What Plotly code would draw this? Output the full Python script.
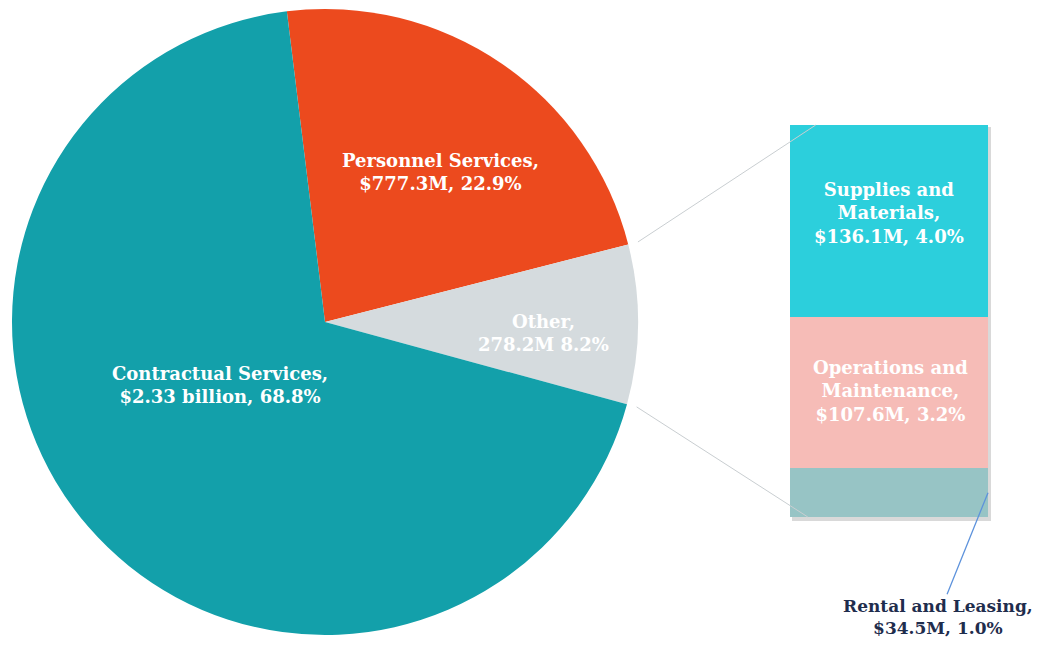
# Budget breakdown: pie of main categories with "Other" exploded into a stacked bar
import math

import plotly.graph_objects as go

# Pie data ($M)
pie_labels = ["Personnel Services", "Other", "Contractual Services"]
pie_values = [777.3, 278.2, 2330.0]
pie_colors = ["#ec4a1e", "#d5dbde", "#13a0aa"]
pie_text = [
    "Personnel Services,<br>$777.3M, 22.9%",
    "Other,<br>278.2M 8.2%",
    "Contractual Services,<br>$2.33 billion, 68.8%",
]

# Breakdown of "Other" ($M), bottom to top
bar_labels = ["Rental and Leasing", "Operations and Maintenance", "Supplies and Materials"]
bar_values = [34.5, 107.6, 136.1]
bar_colors = ["#97c4c5", "#f6bcb7", "#2ccfdc"]
bar_text = [
    "Rental and Leasing,<br>$34.5M, 1.0%",
    "Operations and<br>Maintenance,<br>$107.6M, 3.2%",
    "Supplies and<br>Materials,<br>$136.1M, 4.0%",
]

W, H = 1041, 649
FONT = "DejaVu Serif"
FSIZE = 18

# layout geometry (pixels)
pie_x = [12 / W, 638 / W]
pie_y = [1 - 635 / H, 1 - 9 / H]
bar_x = [790 / W, 988 / W]
bar_y = [1 - 517 / H, 1 - 125 / H]
rotation = -7

fig = go.Figure()

fig.add_trace(
    go.Pie(
        labels=pie_labels,
        values=pie_values,
        sort=False,
        direction="clockwise",
        rotation=rotation,
        marker=dict(colors=pie_colors, line=dict(width=0)),
        textinfo="none",
        hoverinfo="label+value+percent",
        domain=dict(x=pie_x, y=pie_y),
        showlegend=False,
    )
)

for label, value, color in zip(bar_labels, bar_values, bar_colors):
    fig.add_trace(
        go.Bar(
            x=["Other"],
            y=[value],
            name=label,
            marker=dict(color=color, line=dict(width=0)),
            hovertemplate=label + ": $%{y}M<extra></extra>",
            showlegend=False,
        )
    )

# soft shadow behind the bar
fig.add_shape(
    type="rect", xref="paper", yref="paper",
    x0=bar_x[0] + 2 / W, x1=bar_x[1] + 3 / W,
    y0=bar_y[0] - 4 / H, y1=bar_y[1] - 2 / H,
    line=dict(width=0), fillcolor="rgba(80,80,80,0.22)", layer="below",
)

# connector lines from the "Other" slice edges to the bar
total = sum(pie_values)
cx = (pie_x[0] + pie_x[1]) / 2
cy = (pie_y[0] + pie_y[1]) / 2
r_px = min((pie_x[1] - pie_x[0]) * W, (pie_y[1] - pie_y[0]) * H) / 2
a1 = math.radians(rotation + 360 * pie_values[0] / total)
a2 = math.radians(rotation + 360 * (pie_values[0] + pie_values[1]) / total)
bw = bar_x[1] - bar_x[0]
for ang, bx, by in [(a1, bar_x[0] + 0.13 * bw, bar_y[1]), (a2, bar_x[0] + 0.09 * bw, bar_y[0])]:
    fig.add_shape(
        type="line",
        xref="paper",
        yref="paper",
        x0=cx + (r_px + 10) * math.sin(ang) / W,
        y0=cy + (r_px + 10) * math.cos(ang) / H,
        x1=bx,
        y1=by,
        line=dict(color="#c9ced1", width=1),
        layer="above",
    )

# labels
white = dict(family=FONT, size=FSIZE, color="white", weight=700)
label_pos = [(440, 172), (543, 333), (220, 385)]
for txt, (px, py) in zip(pie_text, label_pos):
    fig.add_annotation(
        x=px / W, y=1 - py / H, xref="paper", yref="paper",
        xanchor="center", yanchor="middle",
        text=txt, showarrow=False, font=white, align="center",
    )

bar_pos = {1: (890, 391), 2: (889, 213)}
for i, (px, py) in bar_pos.items():
    fig.add_annotation(
        x=px / W, y=1 - py / H, xref="paper", yref="paper",
        xanchor="center", yanchor="middle",
        text=bar_text[i], showarrow=False, font=white, align="center",
    )

# rental label with leader line to the middle of its segment
bar_total = sum(bar_values)
rent_y = bar_y[0] + (bar_values[0] / 2) / bar_total * (bar_y[1] - bar_y[0])
fig.add_annotation(
    x=bar_x[1], y=rent_y, xref="paper", yref="paper",
    xanchor="center", yanchor="middle",
    text=bar_text[0], showarrow=True, arrowhead=0, arrowwidth=1.3,
    arrowcolor="#5e93dc", ax=-50, ay=124, standoff=0,
    font=dict(family=FONT, size=17, color="#1f2d4d", weight=700), align="center",
)

fig.update_layout(
    width=W,
    height=H,
    margin=dict(l=0, r=0, t=0, b=0),
    paper_bgcolor="white",
    plot_bgcolor="white",
    barmode="stack",
    bargap=0,
    xaxis=dict(domain=bar_x, range=[-0.5, 0.5], visible=False, fixedrange=True),
    yaxis=dict(domain=bar_y, range=[0, bar_total], visible=False, fixedrange=True),
)

# drop the browser's default body margin so the figure sits at the page origin
fig.write_html(
    "out.html",
    config={"displayModeBar": False},
    post_script="document.body.style.margin='0px';",
)
